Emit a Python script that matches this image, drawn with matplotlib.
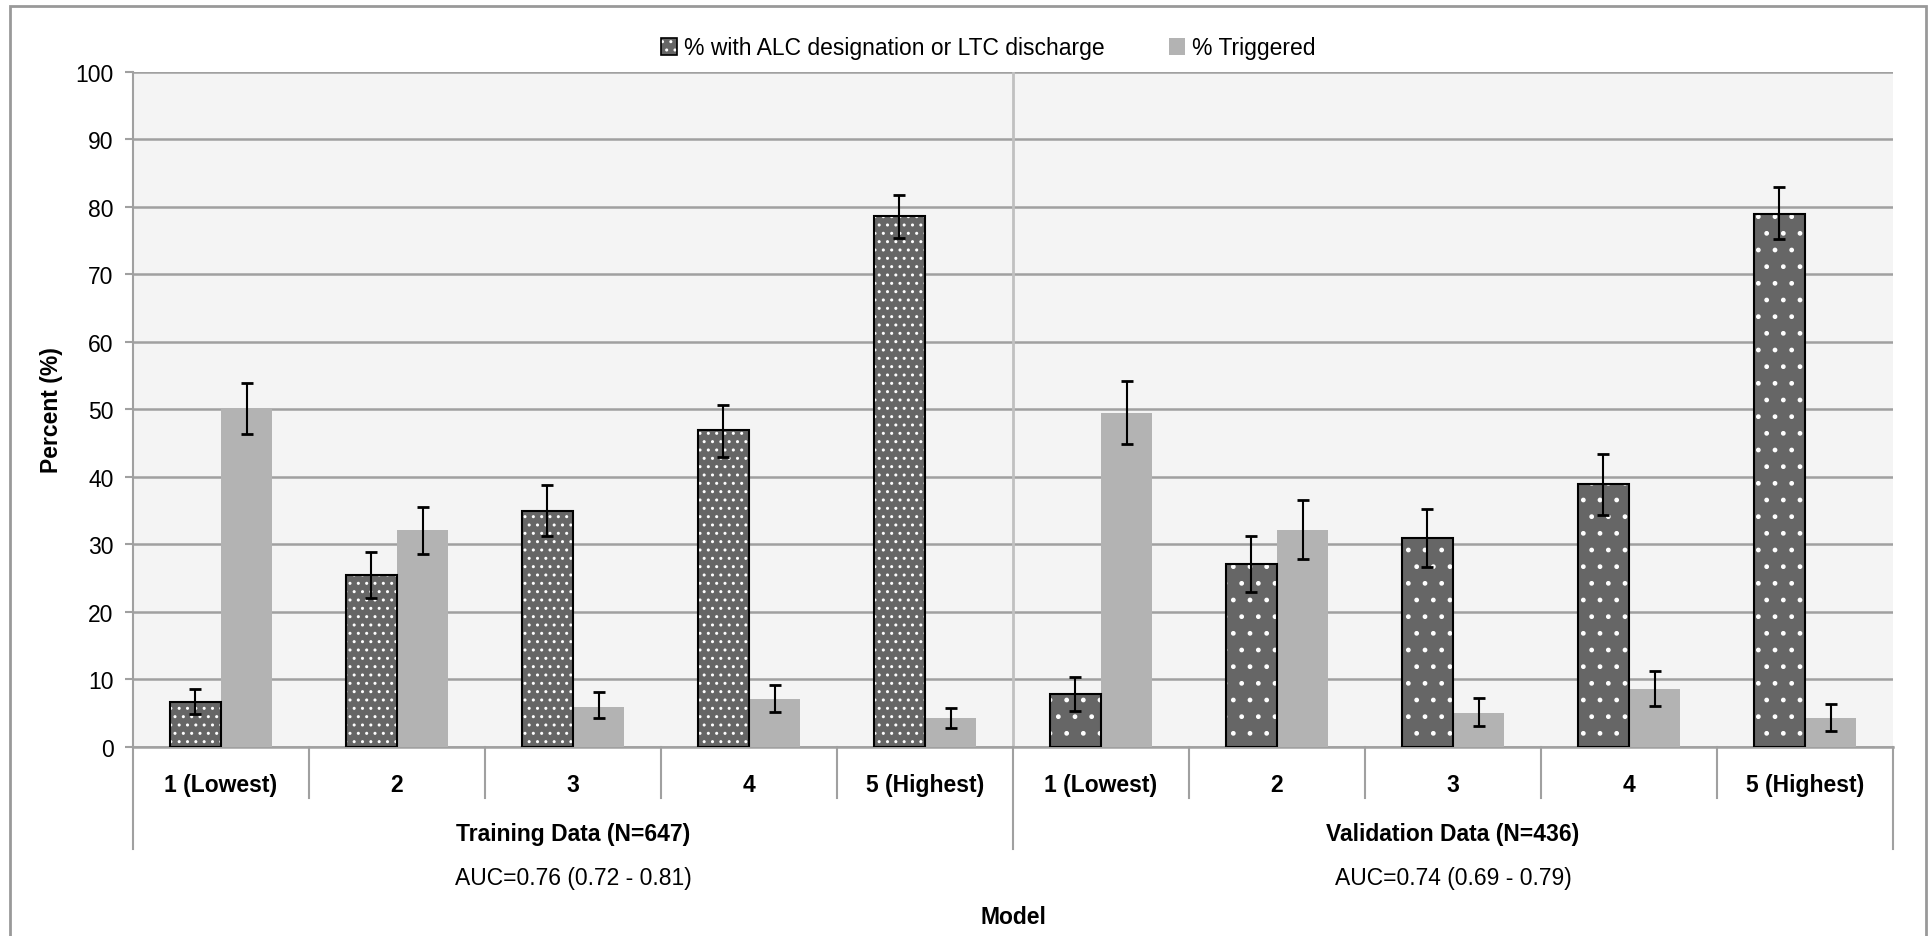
import matplotlib
matplotlib.use("Agg")
import matplotlib.pyplot as plt
from matplotlib.patches import Patch, Rectangle
from matplotlib.lines import Line2D
import numpy as np

# values
categories = ['1 (Lowest)', '2', '3', '4', '5 (Highest)']
groups = ['Training Data (N=647)', 'Validation Data (N=436)']
auc_labels = ['AUC=0.76 (0.72 - 0.81)', 'AUC=0.74 (0.69 - 0.79)']

train_alc = [6.6, 25.4, 35.0, 46.9, 78.6]
train_alc_lo = [4.8, 22.1, 31.3, 42.9, 75.4]
train_alc_hi = [8.6, 28.9, 38.8, 50.7, 81.7]
train_trig = [50.0, 32.1, 5.9, 7.1, 4.2]
train_trig_lo = [46.3, 28.6, 4.3, 5.1, 2.8]
train_trig_hi = [53.9, 35.6, 8.1, 9.2, 5.7]

valid_alc = [7.8, 27.1, 31.0, 39.0, 79.0]
valid_alc_lo = [5.3, 22.9, 26.6, 34.4, 75.2]
valid_alc_hi = [10.3, 31.2, 35.3, 43.4, 82.9]
valid_trig = [49.5, 32.1, 5.0, 8.5, 4.2]
valid_trig_lo = [44.9, 27.8, 3.1, 6.0, 2.3]
valid_trig_hi = [54.2, 36.5, 7.2, 11.2, 6.3]

plt.rcParams['font.family'] = ['Liberation Sans', 'DejaVu Sans']
plt.rcParams['hatch.color'] = 'white'
plt.rcParams['hatch.linewidth'] = 1.0

DARK = '#666666'
LIGHT = '#b3b3b3'
GRID = '#a0a0a0'
FS = 16.5

fig = plt.figure(figsize=(19.33, 9.37), dpi=100)
ax = fig.add_axes([133/1933, 1 - 747.7/937, 1760/1933, 674.7/937])
ax.set_facecolor('#f4f4f4')

w = 0.29
x_train = np.arange(5)
x_valid = np.arange(5) + 5


def draw(xs, vals, lo, hi, hatch, color, edge):
    vals = np.array(vals)
    yerr = [vals - np.array(lo), np.array(hi) - vals]
    if edge:
        ax.bar(xs, vals, w, color=color, hatch=hatch, linewidth=0, zorder=3)
        ax.bar(xs, vals, w, fill=False, edgecolor='black', linewidth=1.5, zorder=4)
    else:
        ax.bar(xs, vals, w, color=color, linewidth=0, zorder=3)
    ax.errorbar(xs, vals, yerr=yerr, fmt='none', ecolor='black',
                elinewidth=1.5, capsize=4, capthick=2, zorder=5)


draw(x_train - w/2, train_alc, train_alc_lo, train_alc_hi, '..', DARK, True)
draw(x_train + w/2, train_trig, train_trig_lo, train_trig_hi, None, LIGHT, False)
draw(x_valid - w/2, valid_alc, valid_alc_lo, valid_alc_hi, '.', DARK, True)
draw(x_valid + w/2, valid_trig, valid_trig_lo, valid_trig_hi, None, LIGHT, False)

ax.set_xlim(-0.5, 9.5)
ax.set_ylim(0, 100)
ax.set_yticks(range(0, 101, 10))
ax.yaxis.grid(True, color=GRID, linewidth=1.8, zorder=1)
ax.set_axisbelow(True)
ax.tick_params(axis='y', length=6, color=GRID, width=1.5, labelsize=FS, pad=8)
ax.set_xticks([])
for s in ['top', 'right']:
    ax.spines[s].set_visible(False)
ax.spines['left'].set_color(GRID)
ax.spines['left'].set_linewidth(1.5)
ax.spines['bottom'].set_color(GRID)
ax.spines['bottom'].set_linewidth(1.8)

# divider between the two data sets
ax.axvline(4.5, color='#c0c0c0', linewidth=2, zorder=2)

# category axis below the plot
trans = ax.get_xaxis_transform()
for i in range(11):
    xb = i - 0.5
    y_end = -0.1516 if i % 5 == 0 else -0.076
    ax.add_line(Line2D([xb, xb], [0, y_end], transform=trans, color=GRID,
                       linewidth=1.5, clip_on=False))
for i, c in enumerate(categories * 2):
    ax.text(i, -0.0553, c, transform=trans, ha='center', va='center',
            fontsize=FS, fontweight='bold')
for g in range(2):
    ax.text(2 + 5*g, -0.129, groups[g], transform=trans, ha='center', va='center',
            fontsize=FS, fontweight='bold')
    ax.text(2 + 5*g, -0.1946, auc_labels[g], transform=trans, ha='center', va='center',
            fontsize=FS)

fig.text(1013/1933, 1 - 918/937, 'Model', ha='center', va='center',
         fontsize=FS, fontweight='bold')
fig.text(52/1933, 1 - 410/937, 'Percent (%)', ha='center', va='center',
         rotation=90, fontsize=FS, fontweight='bold')

# legend
h1 = (Patch(facecolor=DARK, hatch='..', linewidth=0),
      Patch(fill=False, edgecolor='black', linewidth=1.2))
h2 = Patch(facecolor=LIGHT, linewidth=0)
fig.legend([h1, h2], ['% with ALC designation or LTC discharge', '% Triggered'],
           loc='center', bbox_to_anchor=(988/1933, 1 - 49/937), ncol=2,
           frameon=False, fontsize=FS, handlelength=0.7, handleheight=0.7,
           handletextpad=0.3, columnspacing=2.8)

# outer chart border
fig.add_artist(Rectangle((10/1933, -0.01), 1916/1933, 1 - 7/937 + 0.01,
                         transform=fig.transFigure, fill=False,
                         edgecolor='#999999', linewidth=2))

fig.savefig('out.png', dpi=100)
